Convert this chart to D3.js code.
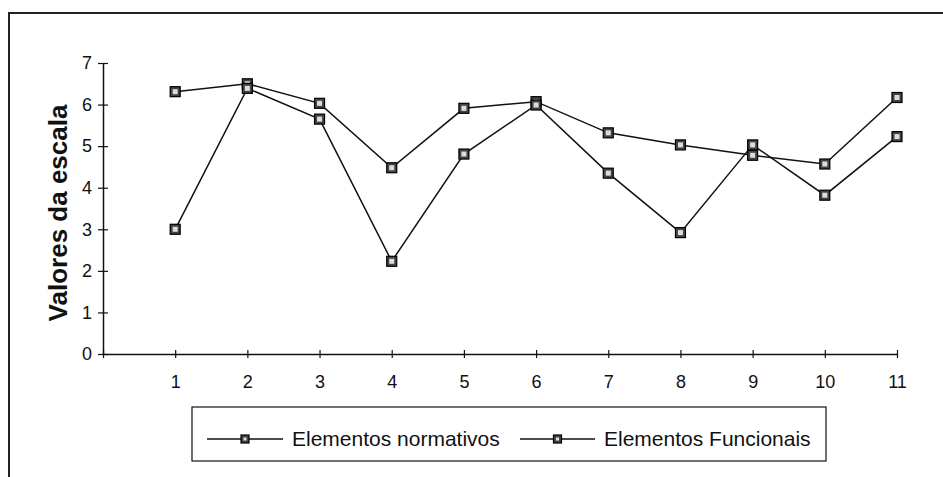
<!DOCTYPE html>
<html>
<head>
<meta charset="utf-8">
<script src="https://cdn.jsdelivr.net/npm/d3@7"></script>
<style>
  body { margin: 0; background: #fff; }
  svg { display: block; font-family: "Liberation Sans", Arial, sans-serif; }
</style>
</head>
<body>
<div id="chart"></div>
<script>
// chart data
const categories = [1, 2, 3, 4, 5, 6, 7, 8, 9, 10, 11];
const normativos = [6.31, 6.5, 6.03, 4.48, 5.91, 6.07, 5.32, 5.03, 4.78, 4.57, 6.17];
const funcionais = [3.0, 6.39, 5.65, 2.23, 4.81, 5.99, 4.35, 2.92, 5.03, 3.82, 5.23];
const seriesNames = ["Elementos normativos", "Elementos Funcionais"];
const yTicks = [0, 1, 2, 3, 4, 5, 6, 7];

const width = 943, height = 477;
const plot = {left: 103, right: 897, top: 63, bottom: 354};

const svg = d3.select("#chart").append("svg")
    .attr("width", width)
    .attr("height", height);

// outer frame (top and left edges only, as in the scan)
svg.append("path")
    .attr("d", `M9,${height} L9,13 L${width},13`)
    .attr("fill", "none")
    .attr("stroke", "#222")
    .attr("stroke-width", 2);

// x positions: tick 0 at the y axis, categories at 1..11
const x = d3.scaleLinear().domain([0, 11]).range([plot.left, plot.right]);
const y = d3.scaleLinear().domain([0, 7]).range([plot.bottom, plot.top]);

// y axis
const yAxis = svg.append("g")
    .attr("transform", `translate(${plot.left},0)`)
    .call(d3.axisLeft(y).tickValues(yTicks).tickSize(0).tickPadding(11)
        .tickFormat(d3.format("d")));
yAxis.select(".domain").attr("stroke", "#111").attr("stroke-width", 1.5);
yAxis.selectAll(".tick line")
    .attr("x1", -5).attr("x2", 5)
    .attr("stroke", "#111").attr("stroke-width", 1.2);
yAxis.selectAll("text")
    .attr("fill", "#111")
    .style("font-size", "18px");

// x axis
const xAxis = svg.append("g")
    .attr("transform", `translate(0,${plot.bottom})`)
    .call(d3.axisBottom(x).tickValues(d3.range(0, 12)).tickSize(0).tickPadding(21)
        .tickFormat(d => d === 0 ? "" : d));
xAxis.select(".domain").attr("stroke", "#111").attr("stroke-width", 1.5);
xAxis.selectAll(".tick line")
    .attr("y1", -4).attr("y2", 4)
    .attr("stroke", "#111").attr("stroke-width", 1.2);
xAxis.selectAll("text")
    .attr("fill", "#111")
    .style("font-size", "18px");

// y axis title
svg.append("text")
    .attr("transform", "translate(67,213) rotate(-90)")
    .attr("text-anchor", "middle")
    .style("font-size", "26px")
    .style("font-weight", "bold")
    .attr("fill", "#111")
    .text("Valores da escala");

// marker: dark square with a light inner pattern
function drawMarker(g, cx, cy, s) {
    g.append("rect")
        .attr("x", cx - s / 2).attr("y", cy - s / 2)
        .attr("width", s).attr("height", s)
        .attr("fill", "#444").attr("stroke", "#000").attr("stroke-width", 1.2);
    g.append("rect")
        .attr("x", cx - s / 2 + 2.5).attr("y", cy - s / 2 + 2.5)
        .attr("width", s - 5).attr("height", s - 5)
        .attr("fill", "#ddd").attr("stroke", "none");
}

const line = d3.line()
    .x((d, i) => x(categories[i]))
    .y(d => y(d));

[normativos, funcionais].forEach(vals => {
    svg.append("path")
        .datum(vals)
        .attr("d", line)
        .attr("fill", "none")
        .attr("stroke", "#111")
        .attr("stroke-width", 1.5);
});

[normativos, funcionais].forEach(vals => {
    const g = svg.append("g");
    vals.forEach((v, i) => drawMarker(g, x(categories[i]), y(v), 10));
});

// legend
const legend = svg.append("g");
legend.append("rect")
    .attr("x", 192).attr("y", 407)
    .attr("width", 634).attr("height", 54)
    .attr("fill", "none")
    .attr("stroke", "#111")
    .attr("stroke-width", 1.2);

const legendItems = [
    {name: seriesNames[0], x1: 207, x2: 283, tx: 292},
    {name: seriesNames[1], x1: 520, x2: 595, tx: 604}
];
legendItems.forEach(it => {
    legend.append("line")
        .attr("x1", it.x1).attr("x2", it.x2)
        .attr("y1", 439).attr("y2", 439)
        .attr("stroke", "#111").attr("stroke-width", 1.5);
    drawMarker(legend, (it.x1 + it.x2) / 2, 439, 8);
    legend.append("text")
        .attr("x", it.tx).attr("y", 446)
        .style("font-size", "21px")
        .attr("fill", "#111")
        .text(it.name);
});
</script>
</body>
</html>
